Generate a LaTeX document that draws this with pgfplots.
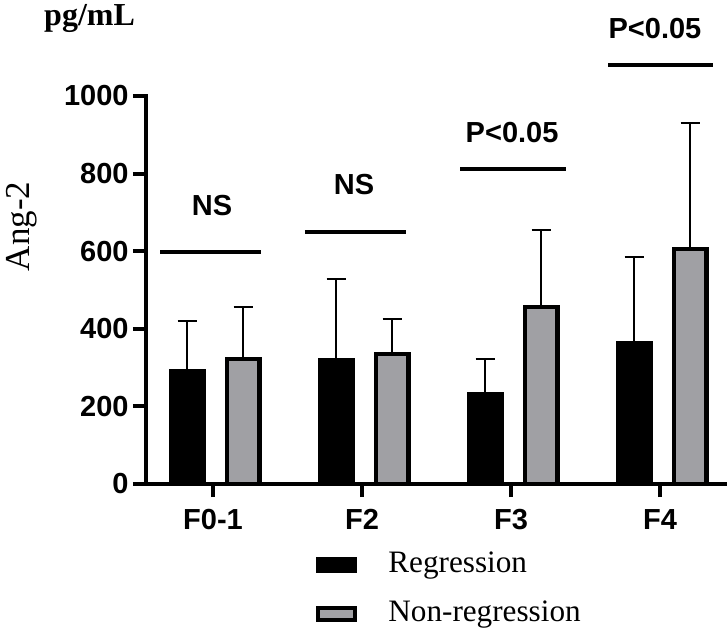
\documentclass[border=0pt]{standalone}
\usepackage{fontspec}
\setmainfont{Liberation Serif}
\newfontfamily\arialfont{Liberation Sans}
\usepackage{pgfplots}
\pgfplotsset{compat=1.18}
\usepackage{pgfplotstable}

\definecolor{nonreg}{RGB}{160,160,164}

% group, regression mean / SD, non-regression mean / SD
\pgfplotstableread{
x reg regerr non nonerr
0 290 130 322 134
1 320 208 335 90
2 232 90 456 199
3 363 222 606 324
}\angdata

\newcommand\boldsans{\arialfont\bfseries\fontsize{14.5}{17}\selectfont}

\begin{document}
\begin{tikzpicture}
\path[use as bounding box] (-73pt,-77.5pt) rectangle (291pt,242pt);
\begin{axis}[
    at={(0pt,0pt)}, anchor=south west,
    scale only axis,
    width=289.5pt, height=194pt,
    xmin=-0.45, xmax=3.436,
    ymin=0, ymax=1000,
    axis lines=left,
    axis line style={-, line width=2pt, line cap=rect},
    clip=false,
    ybar, bar width=16.25pt,
    xtick={0,1,2,3},
    xticklabels={F0-1,F2,F3,F4},
    ytick={0,200,...,1000},
    tick align=outside,
    major tick length=6.5pt,
    tick style={line width=2pt, black},
    ticklabel style={font=\boldsans},
    yticklabel style={inner xsep=2pt},
    xticklabel style={yshift=-2.5pt},
    /pgf/number format/assume math mode=true,
    /pgf/number format/1000 sep={},
    ylabel={Ang-2},
    ylabel style={at={(rel axis cs:-0.202,0.664)}, anchor=base, font=\fontsize{17.5}{20}\selectfont},
    legend style={draw=none, fill=none, inner sep=0pt,
        at={(rel axis cs:0.2936,-0.1753)}, anchor=north west,
        font=\fontsize{15.6}{18}\selectfont, row sep=11.5pt,
        nodes={inner sep=0pt, text height=10pt, text depth=3pt},
        /tikz/every odd column/.append style={column sep=15.5pt}},
    legend cell align=left,
    legend image code/.code={\draw[#1, /tikz/line width=2pt] (0pt,-3pt) rectangle (18.5pt,3pt);},
]
\addplot[fill=black, draw=black, line width=2.25pt, bar shift=-13pt,
    error bars/.cd, y dir=plus, y explicit, error mark=|,
    error bar style={line width=0.75pt, black},
    error mark options={line width=0.75pt, mark size=4.75pt, black}]
    table[x=x, y=reg, y error=regerr] {\angdata};
\addlegendentry{Regression}
\addplot[fill=nonreg, draw=black, line width=2.25pt, bar shift=15pt,
    error bars/.cd, y dir=plus, y explicit, error mark=|,
    error bar style={line width=0.75pt, black},
    error mark options={line width=0.75pt, mark size=4.75pt, black}]
    table[x=x, y=non, y error=nonerr] {\angdata};
\addlegendentry{Non-regression}

% significance bars
\draw[line width=2pt] (axis cs:-0.356,598) -- (axis cs:0.322,598);
\draw[line width=2pt] (axis cs:0.617,649.5) -- (axis cs:1.295,649.5);
\draw[line width=2pt] (axis cs:1.658,812) -- (axis cs:2.369,812);
\draw[line width=2pt] (axis cs:2.651,1080) -- (axis cs:3.356,1080);
\node[anchor=base, font=\boldsans] at (axis cs:-0.007,693) {NS};
\node[anchor=base, font=\boldsans] at (axis cs:0.946,745) {NS};
\node[anchor=base, font=\boldsans] at (axis cs:2.007,879) {P<0.05};
\node[anchor=base, font=\boldsans] at (axis cs:2.966,1149.5) {P<0.05};

\node[anchor=base west, font=\bfseries\fontsize{16}{18}\selectfont] at (rel axis cs:-0.188,1.181) {pg/mL};
\end{axis}
\end{tikzpicture}
\end{document}
